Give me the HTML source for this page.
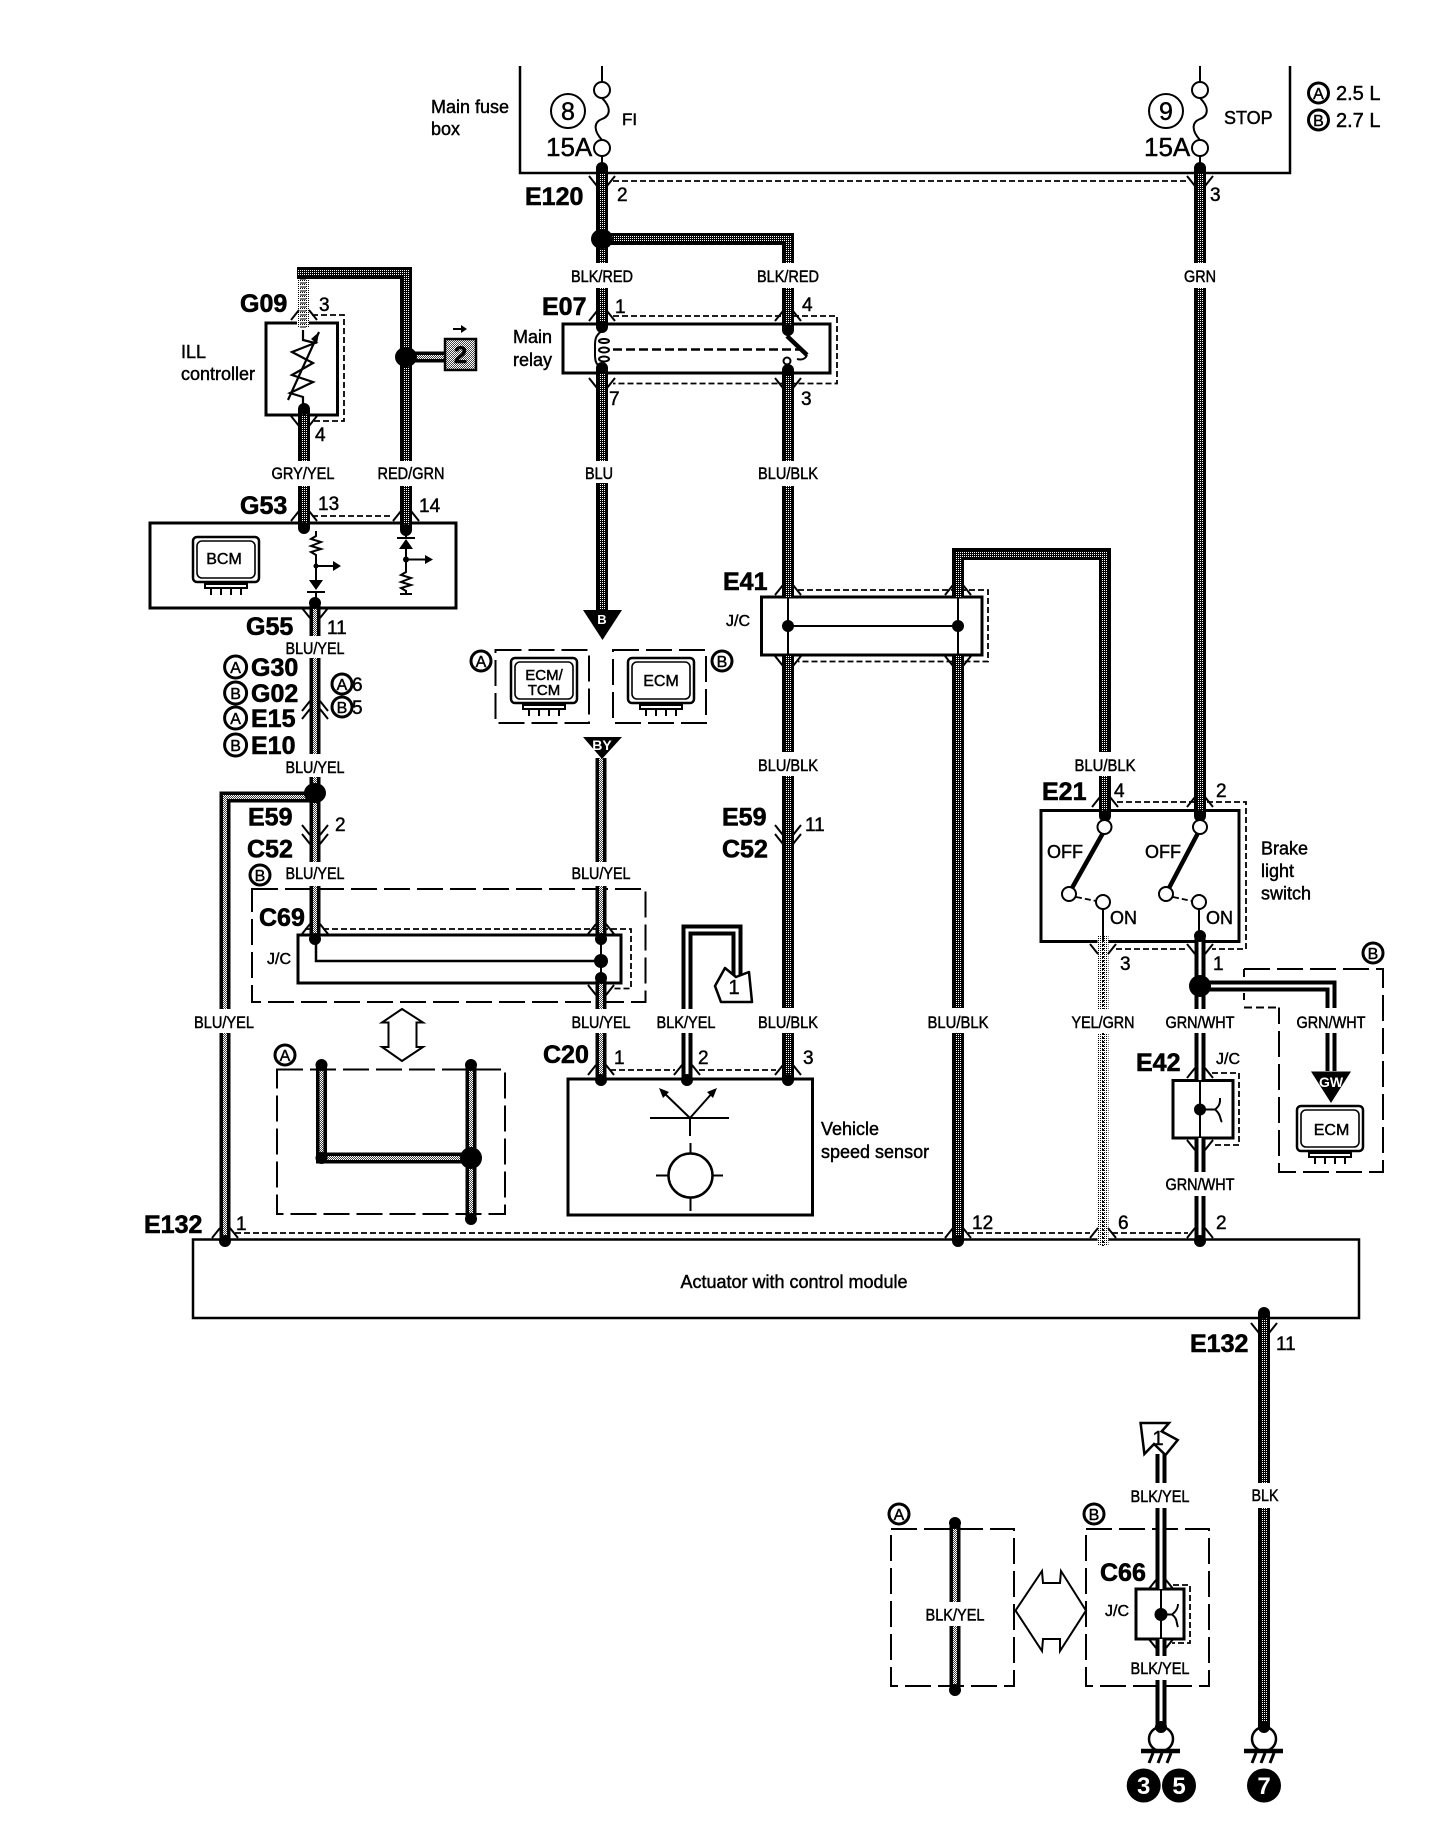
<!DOCTYPE html>
<html><head><meta charset="utf-8"><style>
html,body{margin:0;padding:0;background:#fff}
svg{display:block}
text{font-family:"Liberation Sans",sans-serif;fill:#000;stroke:#000;stroke-width:.45}
.b{font-size:25px;font-weight:bold;stroke-width:.6}
.n{font-size:19px}
.l{font-size:17px;text-anchor:middle;stroke-width:.5}
.t{font-size:18px}
.c{text-anchor:middle}
.wb{fill:none;stroke:#000;stroke-width:12}
.w1{fill:none;stroke:url(#dk);stroke-width:6}
.wm{fill:none;stroke:#000;stroke-width:11}
.w2{fill:none;stroke:url(#md);stroke-width:4}
.w3{fill:none;stroke:#fff;stroke-width:3}
.ln{fill:none;stroke:#000;stroke-width:2}
.ln3{fill:none;stroke:#000;stroke-width:3}
.da{fill:none;stroke:#000;stroke-width:1.8;stroke-dasharray:6 3}
.dl{fill:none;stroke:#000;stroke-width:2;stroke-dasharray:26 7}
.cap{fill:none;stroke:#000;stroke-width:12;stroke-linecap:round}
</style></head><body>
<svg xmlns="http://www.w3.org/2000/svg" width="1456" height="1844" viewBox="0 0 1456 1844">
<defs>
<pattern id="dk" patternUnits="userSpaceOnUse" width="2" height="2"><rect width="2" height="2" fill="#000"/><rect width="1" height="1" fill="#fff"/></pattern>
<pattern id="md" patternUnits="userSpaceOnUse" width="2" height="2"><rect width="2" height="2" fill="#444"/><rect width="1" height="1" fill="#fff"/><rect x="1" y="1" width="1" height="1" fill="#fff"/></pattern>
<pattern id="lt" patternUnits="userSpaceOnUse" width="2" height="2"><rect width="2" height="2" fill="#fff"/><rect width="1" height="1" fill="#000"/></pattern>
<g id="ta"><path class="ln" d="M-13 5L-5 -5M13 5L5 -5"/></g>
<g id="tv"><path class="ln" d="M-13 -5L-5 5M13 -5L5 5"/></g>
<g id="ecu">
<rect x="0" y="0" width="66" height="45" rx="4" fill="#fff" stroke="#000" stroke-width="2.5"/>
<rect x="4" y="4" width="58" height="37" rx="5" fill="none" stroke="#000" stroke-width="1.6"/>
<path class="ln" d="M12 47H54V51H12ZM18 51V58M28 51V58M38 51V58M48 51V58"/>
</g>
<g id="gnd">
<circle cx="0" cy="0" r="12" fill="#fff" stroke="#000" stroke-width="2.5"/>
<path d="M-20 12H19" stroke="#000" stroke-width="4.5" fill="none"/>
<path class="ln3" d="M-8 14L-12 24M1 14L-3 24M10 14L6 24"/>
</g>
<g id="W1">
<path d="M602 168V263M602 288V327M602 239H788V263M788 288V330M602 368V461M602 483V612M788 370V461M788 486V597M788 655V752M788 776V1008M788 1033V1080M958 597V554H1105V752M1105 776V816M958 655V1008M958 1033V1241M1200 168V263M1200 288V816M1264 1313V1483M1264 1508V1733M297 273H406V461M406 486V530M304 409V461M304 486V528"/>
</g>
<g id="W2">
<path d="M315 603V636M315 658V754M315 777V862M315 886V939M225 1033V1241M315 797H225V1009M601 758V862M601 886V939M601 978V1009M601 1033V1080M321.5 1065V1158H471M471 1065V1219M955 1523V1602M955 1626V1690M406 357H446"/>
</g>
<g id="W3">
<path d="M687 1009V930H737V975M687 1033V1080M1200 936V1009M1200 1033V1080M1200 986H1331V1008M1331 1033V1071M1200 1138V1172M1200 1196V1241M1161 1454V1483M1161 1508V1589M1161 1639V1656M1161 1680V1733"/>
</g>
</defs>

<!-- fuse box -->
<path class="ln3" d="M520 66V173H1290V66" style="stroke-width:2.5"/>
<path class="ln" d="M602 66V82M602 156V172M602 98C612 108 610 116 602 119C594 122 593 130 602 140"/>
<circle cx="602" cy="90" r="8" class="ln" fill="#fff"/><circle cx="602" cy="148" r="8" class="ln"/>
<path class="ln" d="M1200 66V82M1200 156V172M1200 98C1210 108 1208 116 1200 119C1192 122 1191 130 1200 140"/>
<circle cx="1200" cy="90" r="8" class="ln"/><circle cx="1200" cy="148" r="8" class="ln"/>
<circle cx="568" cy="111" r="17" class="ln"/><text x="568" y="120" class="c" font-size="25">8</text>
<circle cx="1166" cy="111" r="17" class="ln"/><text x="1166" y="120" class="c" font-size="25">9</text>
<text x="546" y="156" font-size="26">15A</text><text x="1144" y="156" font-size="26">15A</text>
<text x="622" y="125" style="font-size:17px">FI</text>
<text x="1224" y="124" class="t">STOP</text>
<text x="431" y="113" class="t">Main fuse</text><text x="431" y="135" class="t">box</text>
<circle cx="1318.5" cy="93" r="10" class="ln3"/><text x="1318.5" y="99" class="c" font-size="16">A</text>
<text x="1336" y="100" font-size="20">2.5 L</text>
<circle cx="1318.5" cy="120" r="10" class="ln3"/><text x="1318.5" y="126" class="c" font-size="16">B</text>
<text x="1336" y="127" font-size="20">2.7 L</text>

<!-- boxes -->
<rect x="266" y="323" width="71.5" height="92" class="ln3"/>
<rect x="563" y="324" width="267" height="49" class="ln3"/>
<rect x="150" y="523" width="306" height="85" class="ln3"/>
<rect x="761.5" y="597" width="220.5" height="58" class="ln3"/>
<rect x="298" y="935" width="323" height="48" class="ln3"/>
<rect x="568" y="1079" width="244.5" height="136" class="ln3"/>
<rect x="1041" y="810.5" width="198" height="131" class="ln3"/>
<rect x="1173" y="1080.5" width="60" height="57.5" class="ln3"/>
<rect x="193" y="1239.5" width="1166" height="78.5" class="ln3" style="stroke-width:2.5"/>
<rect x="1136" y="1589" width="48" height="50" class="ln3"/>

<!-- dashed -->
<path class="da" d="M613 181H1189M312 315H344V421H312M613 316H837V383.500H613M312 516H392M798 590H988V661.500H798M305 929H631V988.500H613M610 1070H675M699 1070H776M1117 802H1246V949H1212M1116 949H1188M1212 1073H1239V1145H1212M235 1233H946M968 1233H1090M1112 1233H1188M1173 1585H1190V1643H1172"/>
<path d="M613 349.500H800" fill="none" stroke="#000" stroke-width="2.5" stroke-dasharray="9 4"/>
<path class="dl" d="M252 889H645.500V1002H252ZM277 1069.500H505V1214H277ZM891 1529H1014V1686H891ZM1086 1529H1209V1686H1086ZM495.500 650H589V723H495.500ZM613 650H706V723H613Z"/>
<path class="dl" d="M1244 969H1383V1172H1279V1007.500"/>
<path class="ln" d="M1244 1007.500H1279M1244 969V1000" stroke-dasharray="8 4"/>

<!-- wires -->
<use href="#W1" class="wb"/><use href="#W1" class="w1"/>
<use href="#W2" class="wm"/><use href="#W2" class="w2"/>
<use href="#W3" class="wm"/><use href="#W3" class="w3"/>
<path d="M303 328V279" fill="none" stroke="url(#lt)" stroke-width="12"/>
<path d="M303 328V279" fill="none" stroke="#777" stroke-width="6" stroke-dasharray="2 2"/>
<path d="M1103 936V1009M1103 1033V1246" fill="none" stroke="url(#lt)" stroke-width="11"/>
<path d="M1103 936V1009M1103 1033V1246" fill="none" stroke="#000" stroke-width="2" stroke-dasharray="2 2"/>
<path class="cap" d="M602 168h0M602 327h0M788 330h0M602 368h0M788 370h0M1200 168h0M304 409h0M304 528h0M406 530h0M315 603h0M315 939h0M601 939h0M601 978h0M601 1080h0M687 1080h0M788 1080h0M1105 816h0M1200 816h0M958 1241h0M1200 1241h0M225 1241h0M1264 1313h0M321.500 1065h0M471 1065h0M471 1219h0M955 1523h0M955 1690h0M321.500 1158h0M1200 936h0"/>
<g fill="#000">
<ellipse cx="602" cy="239" rx="11" ry="10"/>
<ellipse cx="406" cy="357" rx="11" ry="10"/>
<ellipse cx="315" cy="793" rx="11" ry="10"/>
<ellipse cx="471" cy="1158" rx="11" ry="11"/>
<ellipse cx="1200" cy="986" rx="11" ry="11"/>
<circle cx="601" cy="961" r="7"/>
<circle cx="788" cy="626" r="6"/><circle cx="958" cy="626" r="6"/>
<circle cx="1200" cy="1109.500" r="6"/><circle cx="1161" cy="1614.500" r="6.500"/>
</g>

<!-- connector ticks -->
<use href="#tv" x="602" y="181"/><use href="#tv" x="1200" y="181"/>
<use href="#ta" x="304" y="315"/><use href="#tv" x="304" y="421"/>
<use href="#ta" x="304" y="516"/><use href="#ta" x="406" y="516"/>
<use href="#tv" x="315" y="613"/><use href="#ta" x="315" y="706"/><use href="#ta" x="315" y="714"/>
<use href="#tv" x="315" y="830"/><use href="#tv" x="315" y="839"/>
<use href="#tv" x="788" y="830"/><use href="#tv" x="788" y="839"/>
<use href="#ta" x="602" y="316"/><use href="#ta" x="788" y="316"/>
<use href="#tv" x="602" y="383"/><use href="#tv" x="788" y="383"/>
<use href="#ta" x="788" y="590"/><use href="#ta" x="958" y="590"/>
<use href="#tv" x="788" y="661"/><use href="#tv" x="958" y="661"/>
<use href="#ta" x="315" y="929"/><use href="#ta" x="601" y="929"/><use href="#tv" x="601" y="990"/>
<use href="#ta" x="601" y="1070"/><use href="#ta" x="687" y="1070"/><use href="#ta" x="788" y="1070"/>
<use href="#ta" x="1105" y="802"/><use href="#ta" x="1200" y="802"/>
<use href="#tv" x="1103" y="949"/><use href="#tv" x="1200" y="949"/>
<use href="#ta" x="1200" y="1073"/><use href="#tv" x="1200" y="1145"/>
<use href="#ta" x="225" y="1233"/><use href="#ta" x="958" y="1233"/><use href="#ta" x="1103" y="1233"/><use href="#ta" x="1200" y="1233"/>
<use href="#tv" x="1264" y="1328"/>
<use href="#ta" x="1161" y="1585"/><use href="#tv" x="1161" y="1643"/>

<!-- ILL controller -->
<path class="ln3" d="M303 330V340L315 343L292 352L313 363L292 375L313 382L290 393L303 397V410M288 400L319 332" style="stroke-width:2.2"/>
<path d="M319 332L311 339L317 344Z" fill="#000"/>
<rect x="445" y="339" width="31" height="31" fill="url(#md)" stroke="#000" stroke-width="2.5"/>
<text x="460.500" y="363" class="c" font-size="24" font-weight="bold">2</text>
<path class="ln" d="M453 329H465"/><path d="M467 329L461 325V333Z" fill="#000"/>

<!-- relay internals -->
<path class="ln" d="M602 331C594 336 595 342 595 350C595 358 594 364 602 368"/>
<ellipse cx="604" cy="341" rx="5" ry="2" class="ln"/><ellipse cx="604" cy="350" rx="5" ry="2.500" class="ln"/><ellipse cx="604" cy="359" rx="5" ry="2.500" class="ln"/>
<path d="M787 336L807 355" stroke="#000" stroke-width="4.500" fill="none"/>
<path class="ln" d="M807 355C805 360 801 360 797 359M788 331V336"/>
<circle cx="787" cy="361" r="3.500" class="ln"/>

<!-- BCM internals -->
<use href="#ecu" x="193" y="537"/>
<text x="224" y="564" class="c" font-size="16">BCM</text>
<path class="ln" d="M316 531V536L311 539L321 542L311 546L321 549L311 552L316 555V580M316 592V603M316 566H336"/>
<path d="M341 566L333 561V571Z M309 580H323L316 590Z M307 591H325V593H307Z" fill="#000"/>
<circle cx="316" cy="566" r="2.500" fill="#000"/>
<path class="ln" d="M406 531V537M406 549V572L401 575L411 578L401 582L411 585L401 588L406 591V594M406 559.500H428M400 594H412"/>
<path d="M433 559.500L425 555V564Z M399 549H413L406 539Z M397 537H415V539H397Z" fill="#000"/>
<circle cx="406" cy="559.500" r="3" fill="#000"/>

<!-- triangle arrows -->
<path d="M583 610H622L602.500 640Z" fill="#000"/>
<text x="602" y="624" class="c" font-size="13" font-weight="bold" style="fill:#fff;stroke:none">B</text>
<path d="M583 737H622L602 759Z" fill="#000"/>
<text x="602" y="750" class="c" font-size="14" font-weight="bold" style="fill:#fff;stroke:none">BY</text>
<path d="M1311 1071.500H1351L1331 1103Z" fill="#000"/>
<text x="1331" y="1087" class="c" font-size="14" font-weight="bold" style="fill:#fff;stroke:none">GW</text>

<!-- ECU icons -->
<use href="#ecu" x="511" y="658"/><use href="#ecu" x="628" y="658"/><use href="#ecu" x="1297" y="1106"/>
<text x="544" y="680" class="c" font-size="15">ECM/</text><text x="544" y="695" class="c" font-size="15">TCM</text>
<text x="661" y="686" class="c" font-size="16">ECM</text>
<text x="1331.500" y="1135" class="c" font-size="16">ECM</text>

<!-- J/C internals -->
<path class="ln3" d="M316 939V961H601" style="stroke-width:2.5"/>
<path class="ln" d="M601 939V978"/>
<path class="ln" d="M788 597V655M958 597V655M788 626H958"/>
<path class="ln" d="M1200 1080V1138M1200 1109.500H1215M1215 1109.500C1221 1105 1220 1100 1220 1098M1215 1109.500C1221 1114 1220 1120 1222 1122"/>
<path class="ln" d="M1161 1589V1639M1161 1614.500H1172M1172 1614.500C1178 1610 1178 1606 1178 1604M1172 1614.500C1178 1619 1176 1623 1178 1627"/>

<!-- double arrows -->
<path class="ln" d="M402 1009L382 1022.500H388.500V1047H382L402 1061L423 1047H416.500V1022.500H423Z"/>
<path class="ln" d="M1015.500 1610.600L1042 1571L1043 1583H1060L1061 1571L1086 1610.600L1060 1651V1639H1043L1042 1651Z"/>

<!-- off-page arrows -->
<path d="M715 986L725 968L736 977L749 972L752 1002H721Z" fill="#fff" stroke="#000" stroke-width="2.500" stroke-linejoin="round"/>
<text x="734" y="994" class="c" font-size="20">1</text>
<path d="M1140.600 1423H1169L1161.700 1431.400L1177.700 1440L1165.500 1455L1154 1444L1144.400 1454Z" fill="#fff" stroke="#000" stroke-width="2.500"/>
<text x="1158" y="1445" class="c" font-size="20">1</text>

<!-- speed sensor -->
<path class="ln" d="M650 1118H729M690 1118L662 1091M690 1118L714 1091M690 1118V1136M690.500 1143V1154M656 1175.500H668M713 1175.500H723M690.500 1197V1211"/>
<path d="M659 1088L669 1092L663 1098Z M717 1088L707 1092L713 1098Z" fill="#000"/>
<circle cx="690.500" cy="1175.500" r="22" fill="#fff" stroke="#000" stroke-width="2.500"/>

<!-- switches -->
<path d="M1103 833L1072 888M1198 833L1169 888" stroke="#000" stroke-width="4.500" fill="none"/>
<path class="ln" d="M1103 909V941M1199 909V941"/>
<path class="da" d="M1076 897L1096 901M1173 897L1192 901" stroke-dasharray="4 2"/>
<g fill="#fff" stroke="#000" stroke-width="2">
<circle cx="1104.500" cy="827" r="7"/><circle cx="1069" cy="894" r="7"/><circle cx="1103" cy="902" r="7"/>
<circle cx="1200" cy="827" r="7"/><circle cx="1166" cy="894" r="7"/><circle cx="1199" cy="902" r="7"/>
</g>

<!-- grounds -->
<use href="#gnd" x="1161" y="1739"/><use href="#gnd" x="1264" y="1739"/>
<path class="cap" d="M1161 1727h0M1264 1727h0"/>
<circle cx="1143.700" cy="1785.500" r="17" fill="#000"/><circle cx="1179" cy="1785.500" r="17" fill="#000"/><circle cx="1264" cy="1785.500" r="17" fill="#000"/>
<g font-size="24" font-weight="bold" text-anchor="middle">
<text x="1143.700" y="1794" style="fill:#fff;stroke:none">3</text><text x="1179" y="1794" style="fill:#fff;stroke:none">5</text><text x="1264" y="1794" style="fill:#fff;stroke:none">7</text>
</g>

<!-- connector names -->
<g>
<text x="525" y="205" class="b">E120</text>
<text x="240" y="312" class="b">G09</text>
<text x="542" y="315" class="b">E07</text>
<text x="240" y="514" class="b">G53</text>
<text x="246" y="635" class="b">G55</text>
<text x="251" y="676" class="b">G30</text>
<text x="251" y="702" class="b">G02</text>
<text x="251" y="727" class="b">E15</text>
<text x="251" y="754" class="b">E10</text>
<text x="248" y="825.500" class="b">E59</text>
<text x="247" y="857.500" class="b">C52</text>
<text x="722" y="825.500" class="b">E59</text>
<text x="722" y="857.500" class="b">C52</text>
<text x="723" y="590" class="b">E41</text>
<text x="259" y="926" class="b">C69</text>
<text x="543" y="1063" class="b">C20</text>
<text x="1042" y="800" class="b">E21</text>
<text x="1136" y="1071" class="b">E42</text>
<text x="144" y="1233" class="b">E132</text>
<text x="1190" y="1352" class="b">E132</text>
<text x="1100" y="1581" class="b">C66</text>
</g>

<!-- circled letters -->
<g>
<circle cx="235.600" cy="667" r="11" class="ln3"/><circle cx="235.600" cy="693" r="11" class="ln3"/><circle cx="235.600" cy="718" r="11" class="ln3"/><circle cx="235.600" cy="745" r="11" class="ln3"/>
<circle cx="342" cy="684" r="10" class="ln3"/><circle cx="342" cy="707" r="10" class="ln3"/>
<circle cx="481" cy="661" r="10" class="ln3"/><circle cx="722" cy="661" r="10" class="ln3"/>
<circle cx="260" cy="875" r="10" class="ln3"/><circle cx="285" cy="1055" r="10" class="ln3"/>
<circle cx="1373" cy="953" r="10" class="ln3"/><circle cx="899" cy="1514" r="10" class="ln3"/><circle cx="1094" cy="1514" r="10" class="ln3"/>
</g>
<g font-size="16" text-anchor="middle">
<text x="235.600" y="673">A</text><text x="235.600" y="699">B</text><text x="235.600" y="724">A</text><text x="235.600" y="751">B</text>
<text x="342" y="690">A</text><text x="342" y="713">B</text>
<text x="481" y="667">A</text><text x="722" y="667">B</text>
<text x="260" y="881">B</text><text x="285" y="1061">A</text>
<text x="1373" y="959">B</text><text x="899" y="1520">A</text><text x="1094" y="1520">B</text>
</g>

<!-- pin numbers -->
<g>
<text x="617" y="201" class="n">2</text><text x="1210" y="201" class="n">3</text>
<text x="319" y="311" class="n">3</text><text x="315" y="441" class="n">4</text>
<text x="318" y="510" class="n">13</text><text x="419" y="512" class="n">14</text>
<text x="327" y="634" class="n">11</text>
<text x="352" y="691" class="n">6</text><text x="352" y="714" class="n">5</text>
<text x="335" y="831" class="n">2</text><text x="805" y="831" class="n">11</text>
<text x="615" y="313" class="n">1</text><text x="802" y="311" class="n">4</text>
<text x="609" y="405" class="n">7</text><text x="801" y="405" class="n">3</text>
<text x="614" y="1064" class="n">1</text><text x="698" y="1064" class="n">2</text><text x="803" y="1064" class="n">3</text>
<text x="1114" y="797" class="n">4</text><text x="1216" y="797" class="n">2</text>
<text x="1120" y="970" class="n">3</text><text x="1213" y="970" class="n">1</text>
<text x="236" y="1230" class="n">1</text><text x="972" y="1229" class="n">12</text><text x="1118" y="1229" class="n">6</text><text x="1216" y="1229" class="n">2</text>
<text x="1276" y="1350" class="n">11</text>
</g>

<!-- wire labels -->
<text x="602" y="282" class="l" textLength="62" lengthAdjust="spacingAndGlyphs">BLK/RED</text>
<text x="788" y="282" class="l" textLength="62" lengthAdjust="spacingAndGlyphs">BLK/RED</text>
<text x="1200" y="282" class="l" textLength="32" lengthAdjust="spacingAndGlyphs">GRN</text>
<text x="303" y="479" class="l" textLength="63" lengthAdjust="spacingAndGlyphs">GRY/YEL</text>
<text x="411" y="479" class="l" textLength="67" lengthAdjust="spacingAndGlyphs">RED/GRN</text>
<text x="599" y="479" class="l" textLength="28" lengthAdjust="spacingAndGlyphs">BLU</text>
<text x="788" y="479" class="l" textLength="60" lengthAdjust="spacingAndGlyphs">BLU/BLK</text>
<text x="315" y="654" class="l" textLength="59" lengthAdjust="spacingAndGlyphs">BLU/YEL</text>
<text x="315" y="773" class="l" textLength="59" lengthAdjust="spacingAndGlyphs">BLU/YEL</text>
<text x="315" y="879" class="l" textLength="59" lengthAdjust="spacingAndGlyphs">BLU/YEL</text>
<text x="601" y="879" class="l" textLength="59" lengthAdjust="spacingAndGlyphs">BLU/YEL</text>
<text x="788" y="771" class="l" textLength="60" lengthAdjust="spacingAndGlyphs">BLU/BLK</text>
<text x="1105" y="771" class="l" textLength="61" lengthAdjust="spacingAndGlyphs">BLU/BLK</text>
<text x="224" y="1028" class="l" textLength="60" lengthAdjust="spacingAndGlyphs">BLU/YEL</text>
<text x="601" y="1028" class="l" textLength="59" lengthAdjust="spacingAndGlyphs">BLU/YEL</text>
<text x="686" y="1028" class="l" textLength="59" lengthAdjust="spacingAndGlyphs">BLK/YEL</text>
<text x="788" y="1028" class="l" textLength="60" lengthAdjust="spacingAndGlyphs">BLU/BLK</text>
<text x="958" y="1028" class="l" textLength="61" lengthAdjust="spacingAndGlyphs">BLU/BLK</text>
<text x="1103" y="1028" class="l" textLength="63" lengthAdjust="spacingAndGlyphs">YEL/GRN</text>
<text x="1200" y="1028" class="l" textLength="69" lengthAdjust="spacingAndGlyphs">GRN/WHT</text>
<text x="1331" y="1028" class="l" textLength="69" lengthAdjust="spacingAndGlyphs">GRN/WHT</text>
<text x="1200" y="1190" class="l" textLength="69" lengthAdjust="spacingAndGlyphs">GRN/WHT</text>
<text x="1265" y="1501" class="l" textLength="27" lengthAdjust="spacingAndGlyphs">BLK</text>
<text x="1160" y="1502" class="l" textLength="59" lengthAdjust="spacingAndGlyphs">BLK/YEL</text>
<text x="1160" y="1674" class="l" textLength="59" lengthAdjust="spacingAndGlyphs">BLK/YEL</text>
<text x="955" y="1620.500" class="l" textLength="59" lengthAdjust="spacingAndGlyphs">BLK/YEL</text>

<!-- descriptive text -->
<text x="181" y="358" class="t">ILL</text><text x="181" y="380" class="t">controller</text>
<text x="513" y="343" class="t">Main</text><text x="513" y="366" class="t">relay</text>
<text x="726" y="626" font-size="16">J/C</text>
<text x="267" y="964" font-size="16">J/C</text>
<text x="1216" y="1064" font-size="16">J/C</text>
<text x="1105" y="1616" font-size="16">J/C</text>
<text x="821" y="1135" class="t">Vehicle</text><text x="821" y="1158" class="t">speed sensor</text>
<text x="1047" y="858" class="t">OFF</text><text x="1145" y="858" class="t">OFF</text>
<text x="1110" y="924" class="t">ON</text><text x="1206" y="924" class="t">ON</text>
<text x="1261" y="854.500" class="t">Brake</text><text x="1261" y="877" class="t">light</text><text x="1261" y="899.500" class="t">switch</text>
<text x="794" y="1288" class="t c">Actuator with control module</text>
</svg>
</body></html>
